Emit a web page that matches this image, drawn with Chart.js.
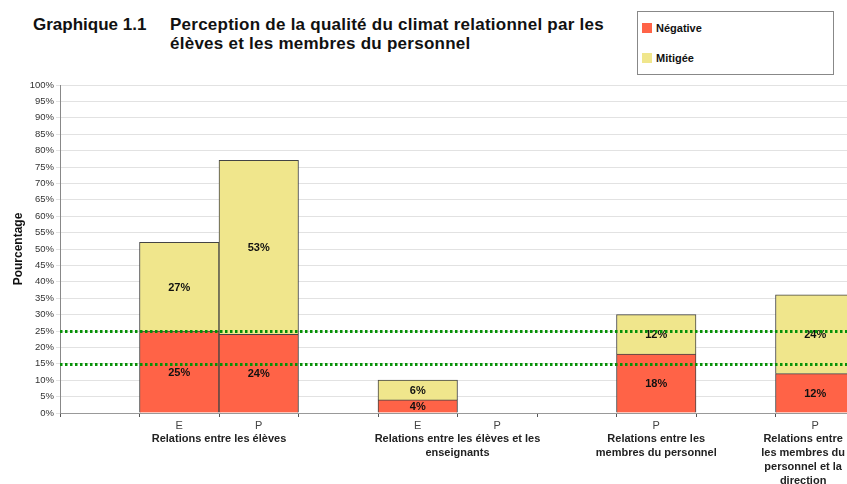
<!DOCTYPE html>
<html lang="fr">
<head>
  <meta charset="utf-8">
  <title>Graphique 1.1</title>
  <script src="https://cdn.jsdelivr.net/npm/chart.js@4"></script>
  <style>
  html, body { margin: 0; padding: 0; background: #fff; overflow: hidden; }
  body { width: 847px; height: 484px; position: relative; font-family: "Liberation Sans", Arial, sans-serif; }
  #holder { position: absolute; left: 0; top: 0; width: 870px; height: 484px; }
  .title { position: absolute; top: 15px; font-weight: bold; font-size: 17px; line-height: 19px; color: #111; white-space: nowrap; }
  #num { left: 33px; }
  #txt { left: 170px; letter-spacing: 0.25px; }
  #legend { position: absolute; left: 637px; top: 11px; width: 195px; height: 62px; border: 1px solid #888; background: #fff; font-size: 11px; font-weight: bold; color: #111; }
  #legend div { position: absolute; left: 4px; height: 10px; line-height: 10px; white-space: nowrap; }
  #legend span { display: inline-block; width: 10px; height: 10px; vertical-align: top; margin-right: 4px; }
  </style>
</head>
<body>
  <div class="title" id="num">Graphique 1.1</div>
  <div class="title" id="txt">Perception de la qualité du climat relationnel par les<br>élèves et les membres du personnel</div>
  <div id="holder"><canvas id="chart" width="870" height="484"></canvas></div>
  <div id="legend">
    <div style="top:11px"><span style="background:#FF6347"></span>Négative</div>
    <div style="top:41px"><span style="background:#F0E68C"></span>Mitigée</div>
  </div>
  <script>
    var categories = ['', 'E', 'P', '', 'E', 'P', '', 'P', '', 'P'];
    var negative = [null, 25, 24, null, 4, null, null, 18, null, 12];
    var mitigee = [null, 27, 53, null, 6, null, null, 12, null, 24];
    var groupLabels = [
      ['Relations entre les élèves'],
      ['Relations entre les élèves et les', 'enseignants'],
      ['Relations entre les', 'membres du personnel'],
      ['Relations entre', 'les membres du', 'personnel et la', 'direction']
    ];
    var groupRanges = [[1, 2], [4, 5], [7, 7], [9, 9]];
    var referenceLines = [25, 15];

    var overlay = {
      id: 'overlay',
      afterDatasetsDraw: function (chart) {
        var ctx = chart.ctx;
        var area = chart.chartArea;
        var x = chart.scales.x;
        var y = chart.scales.y;
        ctx.save();
        // value labels
        ctx.font = 'bold 11px "Liberation Sans", Arial, sans-serif';
        ctx.fillStyle = '#111';
        ctx.textAlign = 'center';
        ctx.textBaseline = 'middle';
        chart.data.datasets.forEach(function (ds, di) {
          chart.getDatasetMeta(di).data.forEach(function (bar, i) {
            var v = ds.data[i];
            if (v == null) return;
            ctx.fillText(v + '%', bar.x, (bar.y + bar.base) / 2 + 1);
          });
        });
        // reference lines
        ctx.strokeStyle = '#079107';
        ctx.lineWidth = 3;
        ctx.setLineDash([2.5, 2.5]);
        referenceLines.forEach(function (v) {
          var py = Math.round(y.getPixelForValue(v)) + 0.5;
          ctx.beginPath();
          ctx.moveTo(area.left, py);
          ctx.lineTo(area.right, py);
          ctx.stroke();
        });
        ctx.setLineDash([]);
        // group labels
        ctx.font = 'bold 11px "Liberation Sans", Arial, sans-serif';
        ctx.fillStyle = '#222';
        ctx.textBaseline = 'top';
        groupRanges.forEach(function (r, g) {
          var cx = (x.getPixelForValue(r[0]) + x.getPixelForValue(r[1])) / 2;
          var w = Math.max.apply(null, groupLabels[g].map(function (t) { return ctx.measureText(t).width; }));
          cx = Math.min(cx, 845 - w / 2);
          groupLabels[g].forEach(function (line, k) {
            ctx.fillText(line, cx, area.bottom + 20 + k * 14);
          });
        });
        ctx.restore();
      }
    };

    var config = {
      type: 'bar',
      data: {
        labels: categories,
        datasets: [{
          label: 'Négative',
          data: negative,
          backgroundColor: '#FF6347',
          borderColor: '#444',
          borderWidth: 1
        }, {
          label: 'Mitigée',
          data: mitigee,
          backgroundColor: '#F0E68C',
          borderColor: '#444',
          borderWidth: 1
        }]
      },
      options: {
        responsive: false,
        animation: false,
        layout: { padding: { top: 85, right: 15, left: 11, bottom: 0 } },
        categoryPercentage: 1,
        barPercentage: 1,
        plugins: {
          legend: { display: false },
          tooltip: { enabled: false }
        },
        scales: {
          x: {
            stacked: true,
            afterFit: function (s) { s.height = 71; },
            grid: { offset: true, drawOnChartArea: false, tickLength: 4, color: '#555' },
            border: { color: '#999' },
            ticks: { color: '#444', font: { size: 11, family: '"Liberation Sans", Arial' }, padding: 2 }
          },
          y: {
            stacked: true,
            min: 0,
            max: 100,
            afterFit: function (s) { s.width = 49; },
            grid: { color: '#e2e2e2', tickLength: 4 },
            border: { color: '#888' },
            title: { display: true, text: 'Pourcentage', font: { size: 12, weight: 'bold', family: '"Liberation Sans", Arial' }, color: '#111', padding: 0 },
            ticks: {
              stepSize: 5,
              autoSkip: false,
              color: '#333',
              padding: 2,
              font: { size: 9.5, family: '"Liberation Sans", Arial' },
              callback: function (v) { return v + '%'; }
            }
          }
        }
      },
      plugins: [overlay]
    };

    new Chart(document.getElementById('chart'), config);
  </script>
</body>
</html>
